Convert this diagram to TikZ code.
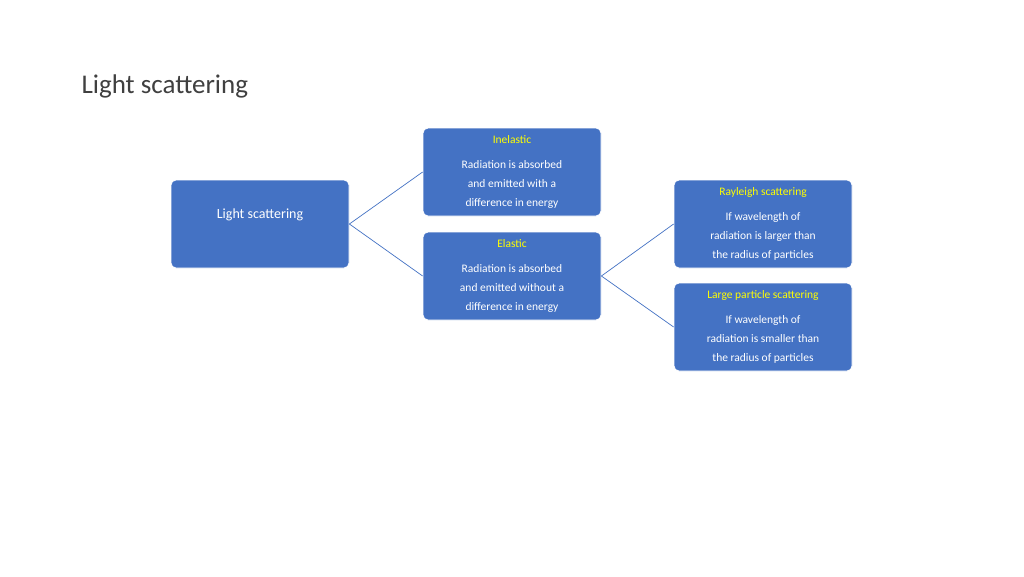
\documentclass[tikz,border=0pt]{standalone}
\usepackage{fontspec}
\setmainfont{Carlito}
\usetikzlibrary{positioning}
\definecolor{boxblue}{HTML}{4472C4}
\definecolor{hdyellow}{HTML}{FFFF00}
\tikzset{
  card/.style={draw=white,line width=0.8pt,fill=boxblue,rounded corners=5pt,text=white,
    minimum width=178pt,minimum height=88pt,inner sep=0pt,align=center,
    font=\fontsize{11.5}{19}\selectfont},
  link/.style={draw=boxblue,line width=0.7pt}
}
\begin{document}
\begin{tikzpicture}[x=1pt,y=-1pt]
\useasboundingbox[fill=white] (0,0) rectangle (1024,576);
\node[anchor=west,font=\fontsize{27}{30}\selectfont,text=black!75] (title) at (78,86) {Light scattering};
\node[card,font=\fontsize{14}{17}\selectfont] (light) at (260,224) {\raisebox{0pt}[0pt][12pt]{Light scattering}};
\node[card] (inel) at (512,172) {\textcolor{hdyellow}{Inelastic}\\[6pt]Radiation is absorbed\\and emitted with a\\difference in energy};
\node[card] (elas) at (512,276) {\textcolor{hdyellow}{Elastic}\\[6pt]Radiation is absorbed\\and emitted without a\\difference in energy};
\node[card] (rayl) at (763,224) {\textcolor{hdyellow}{Rayleigh scattering}\\[6pt]If wavelength of\\radiation is larger than\\the radius of particles};
\node[card] (large) at (763,327) {\textcolor{hdyellow}{Large particle scattering}\\[6pt]If wavelength of\\radiation is smaller than\\the radius of particles};
\draw[link] (light.east) -- (inel.west);
\draw[link] (light.east) -- (elas.west);
\draw[link] (elas.east) -- (rayl.west);
\draw[link] (elas.east) -- (large.west);
\end{tikzpicture}
\end{document}
